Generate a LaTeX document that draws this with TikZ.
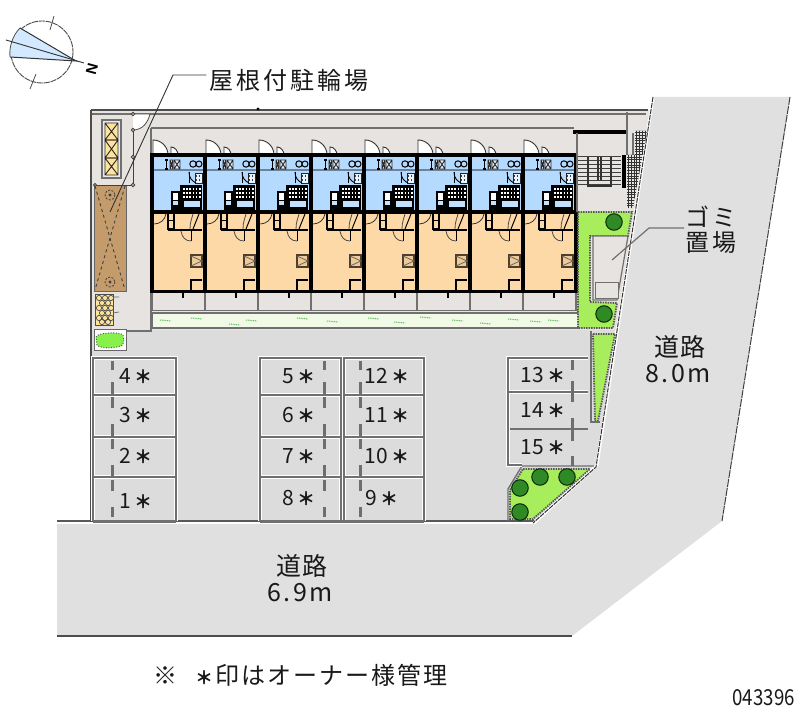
\documentclass[tikz,border=0pt]{standalone}
\usepackage{fontspec}
\newfontfamily\jp{Noto Sans CJK JP}
\newfontfamily\lat{Liberation Sans}
\usetikzlibrary{calc}
\definecolor{roadc}{HTML}{E0E0E0}
\definecolor{lotc}{HTML}{DCDCDC}
\definecolor{yardc}{HTML}{E6E3E0}
\definecolor{bluec}{HTML}{B5DAFF}
\definecolor{orangec}{HTML}{FDD9A8}
\definecolor{greenc}{HTML}{A8EE5C}
\definecolor{treec}{HTML}{2F8A26}
\definecolor{brownc}{HTML}{C49C6C}
\definecolor{yelc}{HTML}{FCE49C}
\definecolor{paleg}{HTML}{F1FAE6}
\definecolor{linec}{HTML}{707070}
\definecolor{stopc}{HTML}{6E6E6E}
\newcommand\slotstar{{\bfseries\fontsize{18}{20}\selectfont ＊}}
\tikzset{
  wall/.style={black,line width=3.4pt},
  greyl/.style={linec,line width=1.4pt},
  parkl/.style={linec,line width=1.5pt},
  parkh/.style={white,line width=3.2pt},
  wheelstop/.style={stopc,line width=3pt},
  hedge/.style={draw=black!65,line width=1.8pt,dash pattern=on 1.5pt off 1pt},
  tree/.style={circle,draw=black!70!treec,fill=treec,line width=1pt,minimum size=16.5pt,inner sep=0pt},
  lbl/.style={font=\jp,text=black!90,inner sep=0pt},
  slot/.style={font=\jp\fontsize{21}{22}\selectfont,text=black!90,inner sep=0pt},
  leader/.style={black!80,line width=.9pt},
}
\newcommand\doorq[3]{\draw[black!80,line width=.9pt,fill=white] (#1,#2) -- (#1,#2-#3) .. controls (#1+.55*#3,#2-#3) and (#1+#3,#2-.55*#3) .. (#1+#3,#2);}
\newcommand\xbox[4]{\draw[black!85,line width=.9pt] (#1,#2) rectangle (#3,#4) (#1,#2) -- (#3,#4) (#1,#4) -- (#3,#2);}
\newcommand\unitroom[1]{%
\begin{scope}[shift={(#1,0)}]
  \fill[bluec] (0,155) rectangle (53,212);
  \fill[orangec] (0,212) rectangle (53,291);
  \fill[yardc] (0,293) rectangle (53,310);
  \doorq{1}{155}{15}
  \draw[black!80,line width=.9pt,fill=white] (19,155) -- (19,147) .. controls (23,147) and (26,151) .. (26,155) -- cycle;
  \draw[black!40!bluec,line width=1.1pt] (2,170) -- (51,170);
  \draw[black,line width=1.2pt] (13,160) -- (16,160) (13,169) -- (16,169) (14.5,160) -- (14.5,169);
  \fill[white!60!bluec] (18,160) rectangle (28,169);
  \xbox{18}{160}{21}{169}\xbox{22}{160}{28}{169}
  \draw[black,line width=1pt] (41,164) circle[radius=3.2] (47,164) circle[radius=3];
  \fill[white!70!bluec] (43,173) rectangle (50,183);
  \draw[black!85,line width=.9pt] (43,173) rectangle (50,183);
  \draw[black,line width=.9pt] (37,172) .. controls (37,178) and (40,181) .. (44,183);
  \draw[black,line width=.9pt] (37,172) -- (37,183);
  \foreach \yy in {176,180}{\draw[black!75,line width=1.1pt,dotted] (44,\yy) -- (50,\yy);}
  \fill[black] (28,185) rectangle (50,211);
  \fill[black] (19,191) rectangle (28,211);
  \fill[white] (21,193) rectangle (26,200);
  \fill[bluec!80!white] (21,201) rectangle (26,205);
  \foreach \yy in {189,193,197}{\draw[white,line width=1.2pt,dash pattern=on 1.6pt off 1.6pt] (31,\yy) -- (49,\yy);}
  \fill[bluec!85!white] (32,201) rectangle (48,207);
  \draw[wall] (0,212) -- (53,212);
  \draw[black!80,line width=.8pt] (2,224) .. controls (8,224) and (13,220) .. (14,214);
  \draw[black,line width=1.6pt] (16,213) rectangle (22,229);
  \draw[black,line width=1pt] (16,221) -- (22,221);
  \draw[black,line width=2.6pt] (16,230) -- (50,230);
  \draw[black,line width=1pt] (41,229) -- (47,214);
  \draw[black!70,line width=.8pt] (38,229) .. controls (38,222) and (40,218) .. (41,214);
  \draw[black,line width=1pt] (39,231) -- (39,241);
  \draw[black!70,line width=.8pt] (39,241) .. controls (33,241) and (30,237) .. (29,231);
  \fill[orangec!75!brownc] (39,255) rectangle (50,267);
  \draw[black!60!brownc,line width=1.5pt] (39,255) rectangle (50,267);
  \draw[black!60,line width=.8pt] (39,256) -- (50,261) -- (39,266);
  \draw[black,line width=1.2pt] (39,290) -- (39,280) -- (50,280);
  \draw[wall] (0,155) -- (53,155);
  \draw[wall] (0,291.5) -- (53,291.5);
  \draw[wall,line width=3.8pt] (0,153.5) -- (0,293);
  \draw[wall,line width=3.8pt] (53,153.5) -- (53,293);
  \draw[black,line width=2.2pt] (31,292) -- (31,298);
  \draw[greyl,line width=1.2pt] (0,293) -- (0,310) (53,293) -- (53,310);
\end{scope}}
\begin{document}
\begin{tikzpicture}[x=1pt,y=-1pt]
\useasboundingbox (0,0) rectangle (800,727);
\fill[white] (0,0) rectangle (800,727);
% roads and lot ground
\fill[roadc] (653,97) -- (790,97) -- (722,521) -- (572,636) -- (57,636) -- (57,520) -- (535,520) -- (597,465) -- cycle;
\fill[lotc] (91,330) -- (615,330) -- (597,465) -- (535,522) -- (91,522) -- cycle;
\draw[black!75,line width=1pt,dash pattern=on 8pt off 1pt] (790,97) -- (722,521);
\draw[black!70,line width=1.4pt] (57,636) -- (572,636);
\draw[white,line width=1.5pt] (57,523) -- (535,523);
\draw[black!65,line width=1.2pt] (57,521) -- (535,521);
\fill[yardc] (91,110) -- (650,110) -- (616,330) -- (91,330) -- cycle;
\draw[black!70,line width=1.2pt] (91,110) -- (648,110);
\draw[greyl,line width=1.2pt] (92,114) -- (646,114);
\draw[black!70,line width=1.4pt] (91,110) -- (91,522);
\fill[black] (258,109) circle[radius=1.6];
\draw[greyl] (151,128) -- (574,128);
\draw[greyl,line width=1.4pt] (151,128) -- (151,331) -- (94,331);
\draw[greyl,line width=1.2pt] (152,310) -- (579,310);
% lot edge with white double line
\draw[white,line width=3pt] (653,97) -- (597,465) -- (534,523);
\draw[black!80,line width=1pt,dash pattern=on 5pt off 1pt] (653,97) -- (596,467) -- (533,523);
% left storage
\draw[linec,line width=1.2pt,fill=yardc!70!white] (102,120) rectangle (121,178);
\fill[yelc] (105,123) rectangle (118,175);
\xbox{105}{123}{118}{140}\xbox{105}{140}{118}{158}\xbox{105}{158}{118}{175}
% bike shelter
\fill[brownc] (94,185) rectangle (126,291);
\draw[black!60,line width=.9pt] (94,185) rectangle (126,291);
\draw[black!75,line width=.9pt,dashed] (95,186) -- (125,290) (125,186) -- (95,290);
\draw[black!75,line width=.8pt,dash pattern=on 2pt off 1.5pt] (110,195) circle[radius=5] (110,282) circle[radius=5];
\fill[black!75] (110,195) circle[radius=1.6] (110,282) circle[radius=1.6];
% gate and fence
\draw[black!75,line width=.9pt] (133,113) -- (133,185) -- (95,185);
\draw[black!70,line width=.8pt,fill=white] (133,130) .. controls (143,130) and (148,122) .. (150,114) -- (133,114);
\foreach \yy in {114,130,157,185}{\draw[black!75,line width=.8pt,fill=yardc] (133,\yy) circle[radius=1.7];}
\draw[black!75,line width=.8pt,fill=yardc] (95,185) circle[radius=1.5];
% yellow bike rack
\fill[yelc] (95,294) rectangle (113,325);
\draw[black!70,line width=.8pt] (95,294) rectangle (113,325);
\foreach \cx/\cy in {99/298,105/298,111/298,102/303,108/303,99/308,105/308,111/308,102/313,108/313,99/318,105/318,111/318,102/322,108/322}{\draw[black!70,line width=.7pt] (\cx,\cy) circle[radius=2.6];}
\draw[black!60,line width=.7pt] (113,297) -- (119,297) (113,313) -- (119,312);
% bush
\draw[black!60,line width=.9pt,fill=white] (94,329) rectangle (126,350);
\fill[greenc!80!green] (96,337) .. controls (98,332) and (121,332) .. (123,335) .. controls (125,341) and (123,345) .. (121,346) .. controls (112,349) and (99,348) .. (97,345) -- cycle;
\draw[black!65,line width=1pt,dash pattern=on 1pt off 1.6pt] (96,337) .. controls (98,332) and (121,332) .. (123,335) .. controls (125,341) and (123,345) .. (121,346) .. controls (112,349) and (99,348) .. (97,345) -- cycle;
% units
\foreach \ux in {152,205,258,311,364,417,470,523}{\unitroom{\ux}}
% garden strip
\draw[linec,line width=1.6pt,fill=paleg] (152,313) rectangle (579,328);
\foreach \gx/\gy in {160/320,191/318,229/324,297/318,246/320,327/321,368/318,394/322,420/317,452/320,480/323,508/319,530/321,548/320}{\draw[green!55!black!60!paleg,line width=1pt,dash pattern=on 1pt off .8pt] (\gx,\gy) -- ++(11,1);}
% stairs
\draw[black,line width=3.6pt] (573,132) -- (626,132);
\draw[greyl] (627,112) -- (627,155) (633,133) -- (633,155);
\draw[greyl] (577,133) -- (577,212);
\foreach \yy in {157,161,165,169,173,177,181,185}{\draw[black!75,line width=1pt] (578,\yy) -- (621,\yy);}
\draw[black!80,line width=1.1pt] (588,157) -- (588,186) -- (611,186) -- (611,157) (598,157) -- (598,180) (601,157) -- (601,180);
\fill[black] (622,155) rectangle (626,188);
\begin{scope}
\clip (635,131) -- (647,131) -- (633,208) -- (627,208) -- (627,155) -- (635,155) -- cycle;
\foreach \gy in {0,...,30}{\draw[black!80,line width=.7pt] (626,130+2.7*\gy) -- (648,130+2.7*\gy);}
\foreach \gx in {0,...,8}{\draw[black!80,line width=.7pt] (626+2.7*\gx,130) -- (626+2.7*\gx,210);}
\end{scope}
% green L garden
\fill[greenc] (578,212) -- (632,212) -- (628,236) -- (590,236) -- (590,302) -- (617,303) -- (613,328) -- (578,328) -- cycle;
\draw[hedge] (578,212) -- (632,212) -- (628,236) -- (590,236) -- (590,302) -- (617,303) -- (613,328) -- (578,328) -- cycle;
\draw[linec,line width=1.2pt,fill=yardc] (593,236) -- (628,236) -- (617,300) -- (593,300) -- cycle;
\draw[linec,line width=1pt,fill=yardc] (595,282) rectangle (618,298);
\node[tree] (t1) at (614,222) {};
\node[tree] (t2) at (604,314) {};
% strip garden
\fill[greenc] (593,334) -- (615,334) -- (598,421) -- (595,421) -- cycle;
\draw[hedge] (593,334) -- (615,334) -- (598,421) -- (595,421) -- cycle;
\draw[greyl] (591,331) -- (591,422) -- (600,422);
% corner garden
\fill[greenc] (523,469) -- (590,469) -- (533,519) -- (510,519) -- (510,490) -- cycle;
\draw[hedge] (523,469) -- (590,469) -- (533,519) -- (510,519) -- (510,490) -- cycle;
\draw[greyl] (522,466) -- (594,466) (522,466) -- (508,489) -- (508,521);
\node[tree] (t3) at (540,477) {};
\node[tree] (t4) at (567,477) {};
\node[tree] (t5) at (520,488) {};
\node[tree] (t6) at (520,512) {};
% parking bays
\foreach \xa/\xb in {93/176,260/341,344/424}{
  \draw[parkh] (\xa,521) -- (\xa,358) -- (\xb,358) -- (\xb,521);
  \foreach \yy in {395,437,477}{\draw[parkh] (\xa,\yy) -- (\xb,\yy);}
  \draw[parkl] (\xa,521) -- (\xa,358) -- (\xb,358) -- (\xb,521);
  \foreach \yy in {395,437,477}{\draw[parkl,line width=2pt] (\xa,\yy) -- (\xb,\yy);}
}
\draw[parkl,line width=3pt] (93,521) -- (176,521) (260,521) -- (424,521);
\foreach \xx in {112,324,360}{
  \foreach \ya/\yb in {361/370,382/394,397/408,424/436,439/449,465/476,480/491,507/517}{
    \draw[wheelstop] (\xx,\ya) -- (\xx,\yb);}
}
\draw[parkh] (588,358) -- (508,358) -- (508,465) -- (522,465);
\draw[parkh] (508,392) -- (588,392);
\draw[parkl] (588,358) -- (508,358) -- (508,465) -- (522,465);
\draw[parkl] (508,392) -- (588,392);
\draw[parkl,line width=2pt] (510,429) -- (588,429);
\foreach \ya/\yb in {360/370,381/402,418/441,456/466}{\draw[wheelstop] (572,\ya) -- (572,\yb);}
% parking labels
\node[slot] (p4) at (136,376) {4\,\slotstar};
\node[slot] (p3) at (136,415) {3\,\slotstar};
\node[slot] (p2) at (136,456) {2\,\slotstar};
\node[slot] (p1) at (136,501) {1\,\slotstar};
\node[slot] (p5) at (299,376) {5\,\slotstar};
\node[slot] (p6) at (299,415) {6\,\slotstar};
\node[slot] (p7) at (299,456) {7\,\slotstar};
\node[slot] (p8) at (299,498) {8\,\slotstar};
\node[slot] (p12) at (387,376) {12\,\slotstar};
\node[slot] (p11) at (387,415) {11\,\slotstar};
\node[slot] (p10) at (387,456) {10\,\slotstar};
\node[slot] (p9) at (382,498) {9\,\slotstar};
\node[slot] (p13) at (543,375) {13\,\slotstar};
\node[slot] (p14) at (543,410) {14\,\slotstar};
\node[slot] (p15) at (543,447) {15\,\slotstar};
% compass
\draw[black!70,line width=.9pt,dash pattern=on 6pt off .8pt] (42,52) circle[radius=31];
\fill[bluec!60!white] (20,28) .. controls (12,36) and (9,48) .. (10,57) -- (76,61) -- cycle;
\draw[black!80,line width=1pt] (20,28) -- (76,61) -- (10,57);
\draw[black!70,line width=.8pt] (20,28) .. controls (12,36) and (9,48) .. (10,57);
\draw[black!80,line width=.9pt] (6,40) -- (84,63);
\draw[black!70,line width=.8pt] (54,16) -- (50,30) (30,89) -- (36,74);
\node[inner sep=0pt,font=\lat\bfseries\fontsize{15}{15}\selectfont,rotate=-105] (north) at (92,69) {N};
% labels
\node[lbl,font=\jp\fontsize{24}{26}\selectfont] (roof) at (289,80) {屋\kern3pt根\kern3pt付\kern3pt駐\kern3pt輪\kern3pt場};
\coordinate (roofelbow) at (173,75);
\coordinate (rooftip) at (110,212);
\draw[leader] (roof.west |- 0,75) ++(-3,0) -- (roofelbow) -- (rooftip);
\node[lbl,font=\jp\fontsize{24}{26}\selectfont] (gomi) at (711,217) {ゴ\kern3ptミ};
\node[lbl,font=\jp\fontsize{24}{26}\selectfont] (okiba) at (711,243) {置\kern3pt場};
\coordinate (gomielbow) at (649,228);
\coordinate (gomitip) at (612,260);
\draw[leader,linec,line width=1.2pt] (684,228) -- (gomielbow) -- (gomitip);
\node[lbl,font=\jp\fontsize{25}{26}\selectfont] (road1) at (680,347) {道\kern1pt路};
\node[lbl,font=\jp\fontsize{25}{26}\selectfont] (width1) at (678,374) {8\kern2pt.\kern3pt0\kern2ptm};
\node[lbl,font=\jp\fontsize{25}{26}\selectfont] (road2) at (302,566) {道\kern1pt路};
\node[lbl,font=\jp\fontsize{25}{26}\selectfont] (width2) at (300,593) {6\kern2pt.\kern3pt9\kern2ptm};
\node[lbl,font=\jp\fontsize{24}{26}\selectfont,anchor=west] (note) at (153,675) {※\hspace{18pt}\slotstar\kern2pt印\kern2ptは\kern2ptオ\kern2ptー\kern2ptナ\kern2ptー\kern2pt様\kern2pt管\kern2pt理};
\node[lbl,font=\jp\fontsize{22}{24}\selectfont,anchor=east] (code) at (795,698) {\scalebox{.85}[1]{043396}};
\end{tikzpicture}
\end{document}
